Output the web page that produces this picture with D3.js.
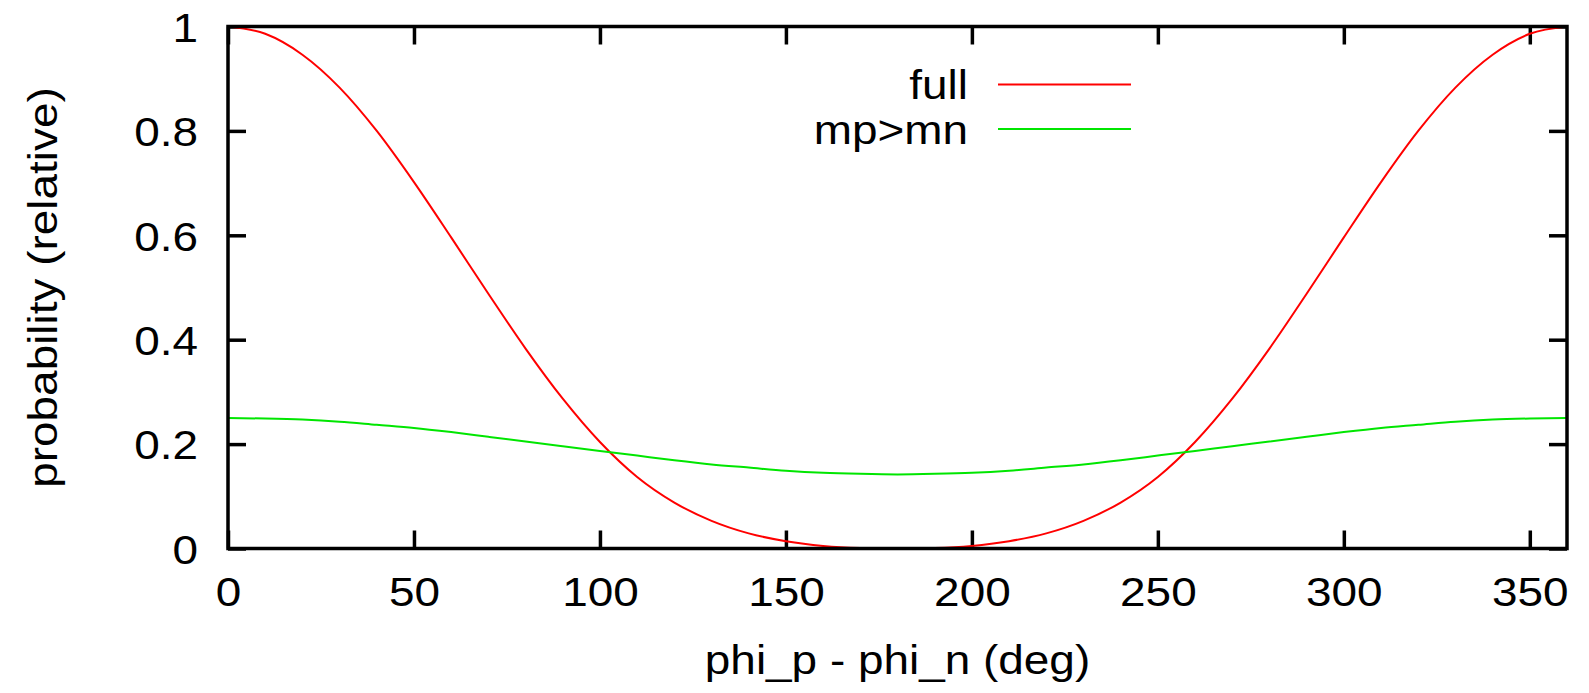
<!DOCTYPE html>
<html>
<head>
<meta charset="utf-8">
<script src="https://cdn.jsdelivr.net/npm/d3@7"></script>
<style>
  body { margin: 0; background: #fff; }
  text { font-family: "Liberation Sans", Arial, sans-serif; }
</style>
</head>
<body>
<script>
// angle in degrees, sampled every 10 deg
const angles = [0, 10, 20, 30, 40, 50, 60, 70, 80, 90, 100, 110, 120, 130, 140, 150, 160, 170, 180,
  190, 200, 210, 220, 230, 240, 250, 260, 270, 280, 290, 300, 310, 320, 330, 340, 350, 360];
const fullValues = [1.0, 0.986, 0.946, 0.883, 0.8, 0.702, 0.596, 0.488, 0.383, 0.287, 0.204, 0.137, 0.088,
  0.053, 0.029, 0.014, 0.005, 0.001, 0.0, 0.001, 0.005, 0.014, 0.029, 0.053, 0.088, 0.137, 0.204, 0.287,
  0.383, 0.488, 0.596, 0.702, 0.8, 0.883, 0.946, 0.986, 1.0];
const mpValues = [0.25, 0.249, 0.247, 0.243, 0.237, 0.231, 0.223, 0.214, 0.205, 0.196, 0.187, 0.178, 0.169,
  0.161, 0.155, 0.149, 0.145, 0.143, 0.142, 0.143, 0.145, 0.149, 0.155, 0.161, 0.169, 0.178, 0.187,
  0.196, 0.205, 0.214, 0.223, 0.231, 0.237, 0.243, 0.247, 0.249, 0.25];
const xTicks = [0, 50, 100, 150, 200, 250, 300, 350];
const yTicks = [0, 0.2, 0.4, 0.6, 0.8, 1];
const seriesNames = ["full", "mp>mn"];
const seriesColors = ["#ff0000", "#00e600"];

const width = 1589;
const height = 693;
const plotLeft = 228, plotRight = 1567, plotTop = 26.5, plotBottom = 548.5;
const fontSize = 41;
const stretch = 1.12;

const svg = d3.select("body").append("svg")
  .attr("width", width)
  .attr("height", height);

const x = d3.scaleLinear().domain([0, 360]).range([plotLeft, plotRight]);
const y = d3.scaleLinear().domain([0, 1]).range([plotBottom, plotTop]);

function yFmt(d) { return d === 0 || d === 1 ? String(d) : d.toFixed(1); }

// axes with inward ticks on all four sides
const xAxis = svg.append("g")
  .attr("transform", "translate(0," + plotBottom + ")")
  .call(d3.axisBottom(x).tickValues(xTicks).tickSizeInner(-18).tickSizeOuter(0));
xAxis.selectAll("text")
  .attr("y", 57.5).attr("dy", 0)
  .attr("transform", "scale(" + stretch + ",1)");

svg.append("g")
  .attr("transform", "translate(0," + plotTop + ")")
  .call(d3.axisTop(x).tickValues(xTicks).tickSizeInner(-18).tickSizeOuter(0).tickFormat(""));

const yAxis = svg.append("g")
  .attr("transform", "translate(" + plotLeft + ",0)")
  .call(d3.axisLeft(y).tickValues(yTicks).tickSizeInner(-18).tickSizeOuter(0).tickFormat(yFmt));
yAxis.selectAll("text")
  .attr("x", -30 / stretch)
  .attr("dy", "0.36em")
  .attr("transform", "scale(" + stretch + ",1)");

svg.append("g")
  .attr("transform", "translate(" + plotRight + ",0)")
  .call(d3.axisRight(y).tickValues(yTicks).tickSizeInner(-18).tickSizeOuter(0).tickFormat(""));

svg.selectAll(".domain").remove();
svg.selectAll(".tick line").attr("stroke", "#000").attr("stroke-width", 3.5);
svg.selectAll(".tick text")
  .attr("font-size", fontSize)
  .attr("font-family", "Liberation Sans, Arial, sans-serif")
  .attr("fill", "#000");

// curves
const line = d3.line()
  .x((d) => x(d[0]))
  .y((d) => y(d[1]))
  .curve(d3.curveMonotoneX);

[fullValues, mpValues].forEach(function (vals, i) {
  svg.append("path")
    .datum(angles.map((a, j) => [a, vals[j]]))
    .attr("d", line)
    .attr("fill", "none")
    .attr("stroke", seriesColors[i])
    .attr("stroke-width", 2);
});

// frame
svg.append("rect")
  .attr("x", plotLeft)
  .attr("y", plotTop)
  .attr("width", plotRight - plotLeft)
  .attr("height", plotBottom - plotTop)
  .attr("fill", "none")
  .attr("stroke", "#000")
  .attr("stroke-width", 3.5);

// legend
const legendY = [84.5, 129];
seriesNames.forEach(function (name, i) {
  svg.append("text")
    .attr("transform", "translate(968," + (legendY[i] + 14.5) + ") scale(" + stretch + ",1)")
    .attr("text-anchor", "end")
    .attr("font-size", fontSize)
    .text(name);
  svg.append("line")
    .attr("x1", 998).attr("x2", 1131)
    .attr("y1", legendY[i]).attr("y2", legendY[i])
    .attr("stroke", seriesColors[i])
    .attr("stroke-width", 2);
});

// axis titles
svg.append("text")
  .attr("transform", "translate(" + (plotLeft + plotRight) / 2 + ",674) scale(" + stretch + ",1)")
  .attr("text-anchor", "middle")
  .attr("font-size", fontSize)
  .text("phi_p - phi_n (deg)");

svg.append("text")
  .attr("transform", "translate(57," + (plotTop + plotBottom) / 2 + ") rotate(-90) scale(" + stretch + ",1)")
  .attr("text-anchor", "middle")
  .attr("font-size", fontSize)
  .text("probability (relative)");
</script>
</body>
</html>
